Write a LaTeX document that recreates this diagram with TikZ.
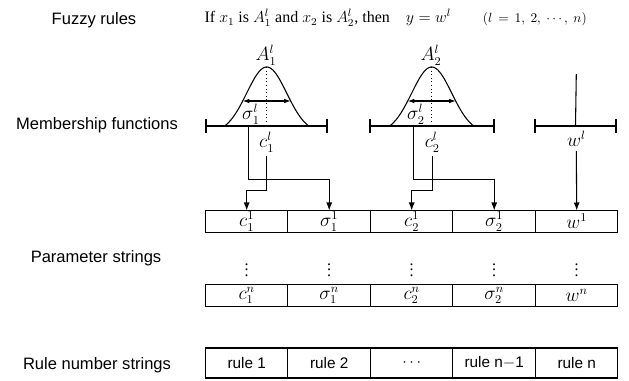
\documentclass[tikz,border=0pt]{standalone}
\usepackage{fontspec}
\setmainfont{Liberation Serif}
\setsansfont{Liberation Sans}
\usetikzlibrary{positioning, arrows.meta, calc}

\begin{document}
\begin{tikzpicture}[x=0.75pt, y=-0.75pt,
    >={Latex[length=6pt,width=4.5pt]},
    lbl/.style={font=\sffamily\fontsize{12.4}{14}\selectfont},
    mth/.style={font=\fontsize{13.5}{15}\selectfont, inner sep=1pt},
    cell/.style={rectangle,draw,line width=0.8pt,minimum width=61.875pt,
                 minimum height=16.5pt,inner sep=0pt,outer sep=0pt,
                 font=\fontsize{13.5}{15}\selectfont},
    rcell/.style={cell,minimum height=22.5pt,font=\sffamily\fontsize{11.5}{14}\selectfont},
    axis/.style={line width=1pt,{Bar[width=10pt,line width=1.4pt]}-{Bar[width=10pt,line width=1.4pt]}},
    wire/.style={line width=0.8pt},
    span/.style={line width=0.8pt,{Latex[length=5pt,width=3.5pt]}-{Latex[length=5pt,width=3.5pt]}}]
  \useasboundingbox (0,0) rectangle (629,381);

  \node[lbl] (fr) at (94,20) {Fuzzy rules};
  \node[lbl] (mf) at (97,125) {Membership functions};
  \node[lbl] (ps) at (96,258) {Parameter strings};
  \node[lbl] (rn) at (97,365) {Rule number strings};

  \node[mth,font=\fontsize{12}{14}\selectfont,anchor=west] (rule) at (203,18)
       {If $x_1$ is $A_1^l$ and $x_2$ is $A_2^l$, then\quad $y = w^l$\qquad
        {\fontsize{10}{12}\selectfont$(l\, =\, 1,\ 2,\ \cdots,\ n)$}};

  \coordinate (m1l) at (205,126);
  \coordinate (m1r) at (328,126);
  \draw[axis] (m1l) -- (m1r);
  \draw[wire] plot[domain=-42:42,samples=60]
        ({266.7+\x},{126-59*(exp(-\x*\x/800)-0.110)/0.890});
  \draw[dotted,line width=0.7pt] (266.7,67) -- (266.7,126);
  \draw[span] (242.7,101) -- (290.7,101);
  \node[mth] (a1) at (266,55) {$A_1^l$};
  \node[mth] (s1lab) at (251,114) {$\sigma_1^l$};
  \node[mth] (c1lab) at (266.7,142) {$c_1^l$};
  \coordinate (s1) at (248.3,126);

  \coordinate (m2l) at (369,126);
  \coordinate (m2r) at (495,126);
  \draw[axis] (m2l) -- (m2r);
  \draw[wire] plot[domain=-42:42,samples=60]
        ({431.7+\x},{126-59*(exp(-\x*\x/800)-0.110)/0.890});
  \draw[dotted,line width=0.7pt] (431.7,67) -- (431.7,126);
  \draw[span] (407.7,101) -- (455.7,101);
  \node[mth] (a2) at (431,55) {$A_2^l$};
  \node[mth] (s2lab) at (416,114) {$\sigma_2^l$};
  \node[mth] (c2lab) at (432.3,142) {$c_2^l$};
  \coordinate (s2) at (413.3,126);

  \coordinate (m3l) at (534,126);
  \coordinate (m3r) at (617,126);
  \draw[axis] (m3l) -- (m3r);
  \coordinate (wtop) at (576.3,74);
  \draw[wire] (wtop) -- ($(m3l)!0.5!(m3r)$);
  \node[mth] (wlab) at (576.3,139) {$w^l$};

  \node[cell] (p1) at (246.7,221.5) {$c_1^1$};
  \node[cell,right=0pt of p1] (p2) {$\sigma_1^1$};
  \node[cell,right=0pt of p2] (p3) {$c_2^1$};
  \node[cell,right=0pt of p3] (p4) {$\sigma_2^1$};
  \node[cell,right=0pt of p4] (p5) {$w^1$};

  \node[cell] (q1) at (246.7,295.5) {$c_1^n$};
  \node[cell,right=0pt of q1] (q2) {$\sigma_1^n$};
  \node[cell,right=0pt of q2] (q3) {$c_2^n$};
  \node[cell,right=0pt of q3] (q4) {$\sigma_2^n$};
  \node[cell,right=0pt of q4] (q5) {$w^n$};

  \node[mth,font=\fontsize{12}{14}\selectfont] (d1) at (246.7,266) {$\vdots$};
  \node[mth,font=\fontsize{12}{14}\selectfont] (d2) at (329.2,266) {$\vdots$};
  \node[mth,font=\fontsize{12}{14}\selectfont] (d3) at (411.7,266) {$\vdots$};
  \node[mth,font=\fontsize{12}{14}\selectfont] (d4) at (494.2,266) {$\vdots$};
  \node[mth,font=\fontsize{12}{14}\selectfont] (d5) at (576.7,266) {$\vdots$};

  \node[rcell] (r1) at (246.7,363) {rule 1};
  \node[rcell,right=0pt of r1] (r2) {rule 2};
  \node[rcell,right=0pt of r2] (r3) {$\cdots$};
  \node[rcell,right=0pt of r3] (r4) {rule n$-$1};
  \node[rcell,right=0pt of r4] (r5) {rule n};

  \draw[wire,->] (s1) |- ([yshift=23.25pt]p2.north) -- (p2.north);
  \draw[wire,->,shorten <=2pt] (c1lab.south) |- ([yshift=15pt]p1.north) -- (p1.north);
  \draw[wire,->] (s2) |- ([yshift=23.25pt]p4.north) -- (p4.north);
  \draw[wire,->,shorten <=2pt] (c2lab.south) |- ([yshift=15pt]p3.north) -- (p3.north);
  \draw[wire,->,shorten <=2pt] (wlab.south) -- (p5.north);
\end{tikzpicture}
\end{document}
